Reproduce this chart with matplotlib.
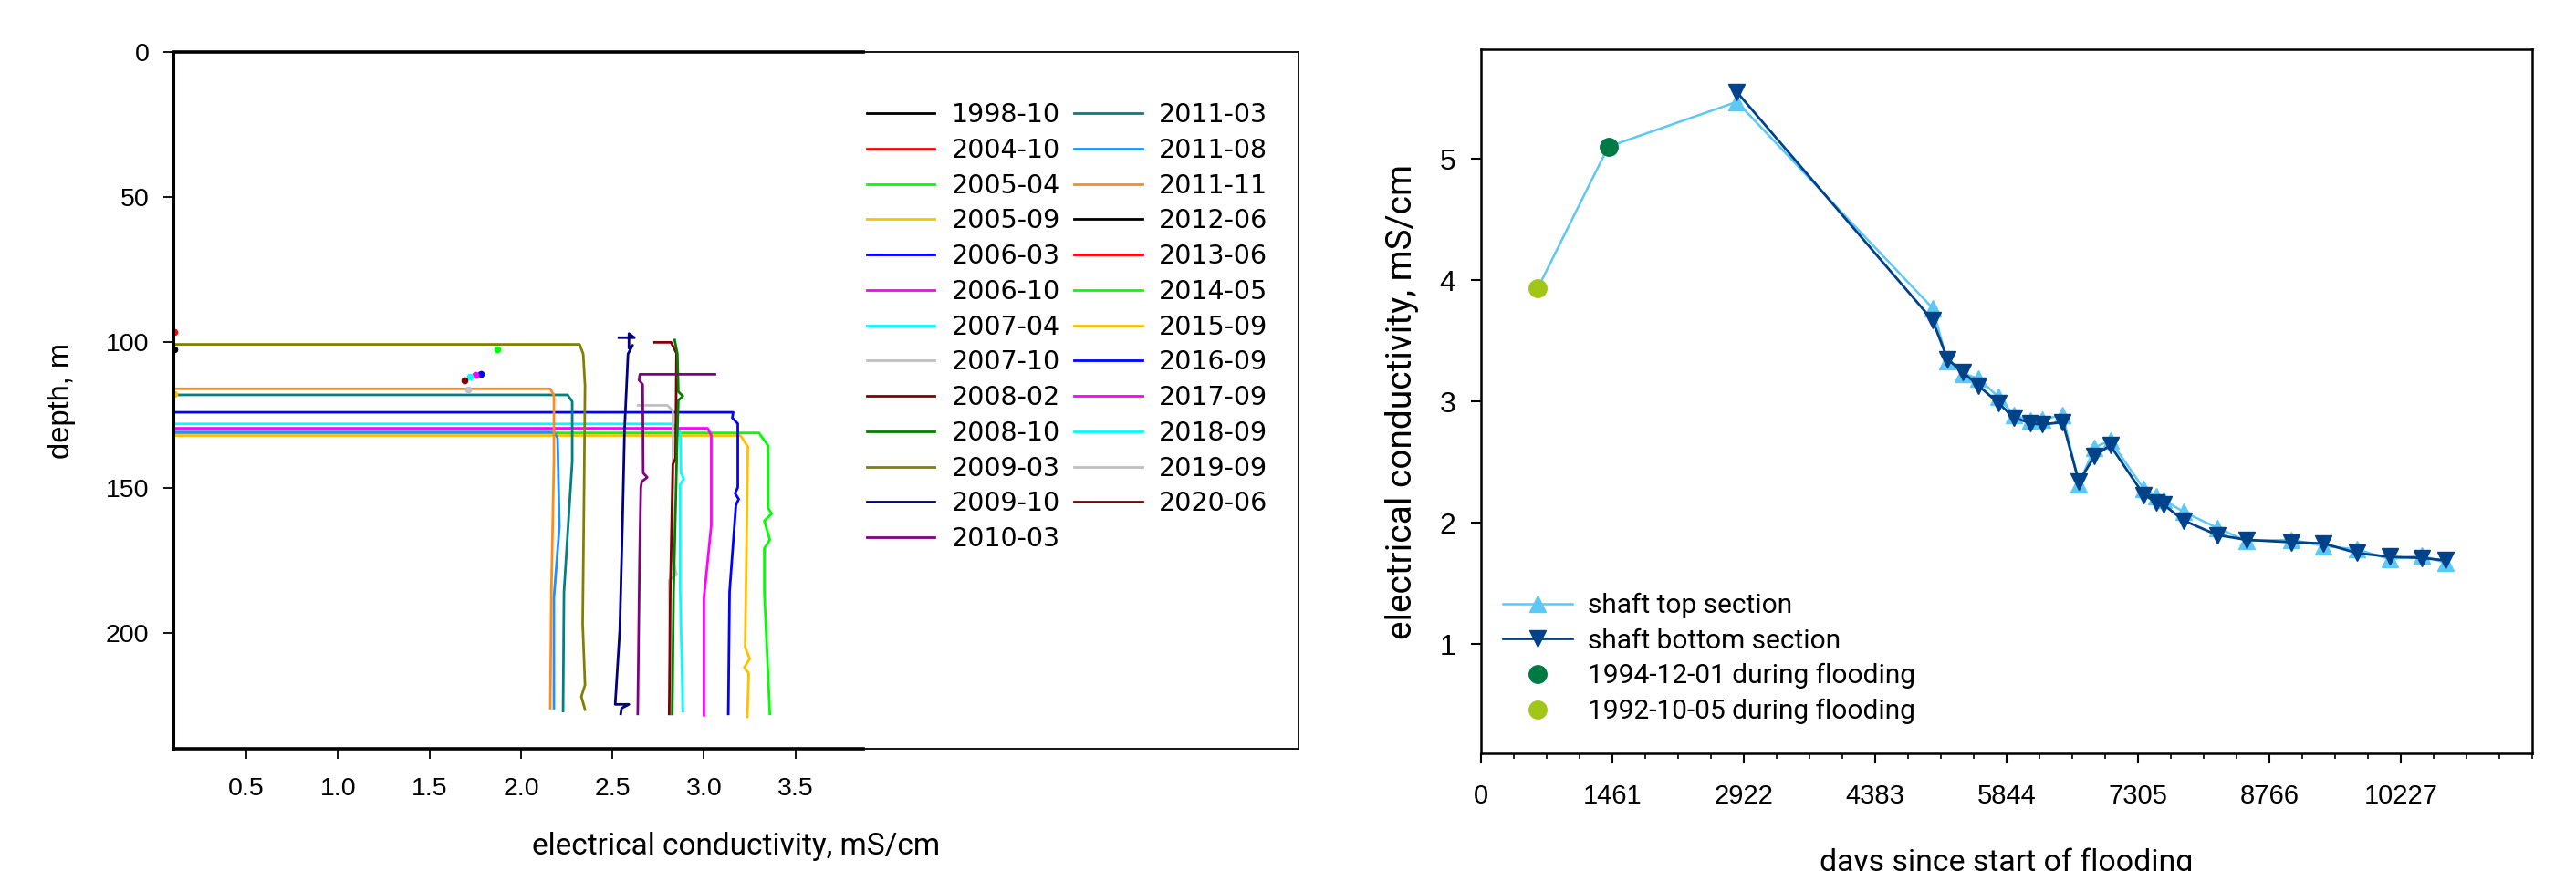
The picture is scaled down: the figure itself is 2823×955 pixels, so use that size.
import matplotlib
matplotlib.use("Agg")
import matplotlib.pyplot as plt
from matplotlib.ticker import MultipleLocator

plt.rcParams['font.family'] = ['Liberation Sans', 'DejaVu Sans']

# ---------------- left panel: depth profiles (EC in mS/cm, depth in m) ----------------
names = ["1998-10", "2004-10", "2005-04", "2005-09", "2006-03", "2006-10", "2007-04",
         "2007-10", "2008-02", "2008-10", "2009-03", "2009-10", "2010-03",
         "2011-03", "2011-08", "2011-11", "2012-06", "2013-06", "2014-05", "2015-09",
         "2016-09", "2017-09", "2018-09", "2019-09", "2020-06"]
colors = ["#000000", "#ff0000", "#00ff00", "#ffc000", "#0000ff", "#ff00ff", "#00ffff",
          "#c0c0c0", "#800000", "#008000", "#808000", "#000080", "#800080",
          "#008080", "#1e90ff", "#ff8c1a", "#000000", "#ff0000", "#00ff00", "#ffc000",
          "#0000ff", "#ff00ff", "#00ffff", "#c0c0c0", "#800000"]

ec_profiles = [
    [0.105],
    [0.105],
    [0.0, 3.30, 3.35, 3.35, 3.37, 3.33, 3.36, 3.33, 3.33, 3.36],
    [0.0, 3.20, 3.24, 3.235, 3.225, 3.25, 3.22, 3.245, 3.237],
    [0.0, 3.16, 3.155, 3.185, 3.185, 3.17, 3.19, 3.175, 3.14, 3.133],
    [0.0, 3.02, 3.04, 3.04, 3.0, 3.0],
    [0.0, 2.83, 2.87, 2.875, 2.89, 2.87, 2.87, 2.885],
    [2.64, 2.80, 2.83, 2.83, 2.85, 2.81, 2.82],
    [2.73, 2.82, 2.85, 2.845, 2.83, 2.816, 2.81],
    [2.84, 2.855, 2.86, 2.885, 2.86, 2.855, 2.834, 2.827],
    [0.0, 2.32, 2.34, 2.35, 2.345, 2.337, 2.35, 2.33, 2.35],
    [2.535, 2.62, 2.59, 2.59, 2.61, 2.585, 2.566, 2.554, 2.54, 2.515, 2.59, 2.55, 2.545],
    [3.06, 2.65, 2.645, 2.665, 2.668, 2.69, 2.66, 2.655, 2.648, 2.638],
    [0.0, 2.255, 2.28, 2.28, 2.235, 2.23],
    [0.0, 2.18, 2.20, 2.21, 2.18, 2.18],
    [0.0, 2.16, 2.18, 2.18, 2.166, 2.16],
    [],
    [],
    [1.87],
    [0.105],
    [1.78],
    [1.75],
    [1.72],
    [1.71],
    [1.69],
]
depth_profiles = [
    [102.4],
    [96.3],
    [131.2, 131.2, 135.5, 157.0, 159.0, 161.5, 168.0, 171.0, 186.0, 228.0],
    [132.1, 132.1, 136.0, 160.0, 205.0, 209.0, 212.0, 214.0, 229.0],
    [124.1, 124.1, 126.0, 128.0, 150.0, 152.0, 154.0, 156.0, 186.0, 228.0],
    [129.6, 129.6, 132.0, 163.0, 188.0, 228.5],
    [128.1, 128.1, 131.0, 145.0, 147.0, 149.0, 185.0, 227.0],
    [121.7, 121.7, 123.6, 175.0, 180.0, 182.0, 228.0],
    [100.0, 100.0, 103.7, 140.0, 142.0, 186.0, 228.0],
    [99.2, 104.0, 117.0, 118.5, 120.0, 130.0, 186.0, 228.0],
    [100.7, 100.7, 104.0, 115.0, 150.0, 197.0, 218.0, 222.0, 226.5],
    [98.4, 98.4, 97.0, 102.0, 101.0, 104.0, 130.0, 164.0, 199.0, 224.7, 224.7, 226.0, 228.0],
    [111.0, 111.0, 113.0, 114.5, 145.0, 146.5, 148.0, 150.0, 175.0, 228.0],
    [118.1, 118.1, 120.4, 141.0, 186.0, 227.0],
    [130.9, 130.9, 133.0, 163.6, 188.0, 226.0],
    [116.0, 116.0, 118.3, 141.0, 186.0, 226.0],
    [],
    [],
    [102.3],
    [117.7],
    [110.8],
    [111.3],
    [111.7],
    [116.3],
    [113.1],
]

ec_ticks = [0.5, 1.0, 1.5, 2.0, 2.5, 3.0, 3.5]
depth_ticks = [0, 50, 100, 150, 200]

# ---------------- right panel: EC vs days since flooding ----------------
days = [2846, 5021, 5187, 5360, 5533, 5749, 5922, 6112, 6238, 6468, 6648, 6823, 6996,
        7370, 7513, 7590, 7812, 8183, 8509, 9013, 9368, 9745, 10103, 10459, 10727]
ec_top = [5.47, 3.77, 3.33, 3.23, 3.19, 3.04, 2.89, 2.84, 2.85, 2.89, 2.32, 2.62, 2.68,
          2.28, 2.22, 2.19, 2.09, 1.96, 1.85, 1.86, 1.81, 1.78, 1.70, 1.73, 1.67]
ec_bottom = [5.55, 3.67, 3.35, 3.24, 3.13, 2.99, 2.87, 2.82, 2.81, 2.83, 2.34, 2.55, 2.64,
             2.23, 2.17, 2.15, 2.02, 1.90, 1.86, 1.84, 1.83, 1.75, 1.72, 1.71, 1.69]
flood_days = [630, 1416]
flood_ec = [3.93, 5.10]
flood_labels = ["1992-10-05 during flooding", "1994-12-01 during flooding"]
flood_colors = ["#a2c617", "#007a45"]
day_ticks = [0, 1461, 2922, 4383, 5844, 7305, 8766, 10227]

fig = plt.figure(figsize=(28.23, 9.55), dpi=100)
ax1 = fig.add_axes([0.0673, 0.1403, 0.4368, 0.80])
ax2 = fig.add_axes([0.5749, 0.1351, 0.4081, 0.8079])

# left panel
for name, col, ec, dep in zip(names, colors, ec_profiles, depth_profiles):
    ax1.plot(ec, dep, color=col, lw=2.0, label=name)
    if len(ec) == 1:
        ax1.plot(ec, dep, 'o', color=col, ms=4.5)

ax1.set_xlim(0.1, 6.25)
ax1.set_ylim(240, 0)
ax1.set_xticks(ec_ticks)
ax1.set_xticklabels([f"{v:.1f}" for v in ec_ticks])
ax1.set_yticks(depth_ticks)
ax1.tick_params(axis='both', direction='out', length=8, width=1.3, labelsize=20.5)
ax1.tick_params(axis='x', pad=14)
ax1.tick_params(axis='y', pad=11)
for s in ax1.spines.values():
    s.set_linewidth(1.3)
# the inner plot frame is drawn a bit heavier than the outer box
ax1.plot([0, 0.613], [1, 1], transform=ax1.transAxes, color='black', lw=2.6, clip_on=False)
ax1.plot([0, 0.613], [0, 0], transform=ax1.transAxes, color='black', lw=2.6, clip_on=False)
ax1.spines['left'].set_linewidth(2.2)

ax1.set_xlabel("electrical conductivity, mS/cm", family='Roboto', fontsize=24)
ax1.xaxis.label.set_va('baseline')
ax1.xaxis.set_label_coords(0.5, -0.152)
ax1.set_ylabel("depth, m", fontsize=23.5)
ax1.yaxis.label.set_va('center')
ax1.yaxis.set_label_coords(-0.099, 0.5)

ax1.legend(loc='upper left', bbox_to_anchor=(0.616, 0.928), ncol=2, frameon=False,
           prop={'family': 'DejaVu Sans', 'size': 20.5}, borderpad=0, borderaxespad=0,
           handlelength=2.63, handletextpad=0.63, columnspacing=0.53, labelspacing=0.378)

# right panel
ax2.plot(flood_days + days[:1], flood_ec + ec_top[:1], color='#5bc8f5', lw=1.8, zorder=2)
ax2.plot(days, ec_top, '-^', color='#5bc8f5', lw=1.8, ms=13, label="shaft top section", zorder=3)
ax2.plot(days, ec_bottom, '-v', color='#00428a', lw=2.0, ms=13, label="shaft bottom section", zorder=4)
ax2.plot(flood_days[1:], flood_ec[1:], 'o', color=flood_colors[1], ms=14, label=flood_labels[1], zorder=5)
ax2.plot(flood_days[:1], flood_ec[:1], 'o', color=flood_colors[0], ms=14, label=flood_labels[0], zorder=5)

ax2.set_xlim(0, 11688)
ax2.set_ylim(0.1, 5.9)
ax2.set_xticks(day_ticks)
ax2.xaxis.set_minor_locator(MultipleLocator(365.25))
ax2.set_yticks([1, 2, 3, 4, 5])
ax2.tick_params(axis='both', which='major', direction='out', length=8, width=1.5)
ax2.tick_params(axis='both', which='minor', direction='out', length=4.5, width=1.2)
ax2.tick_params(axis='x', which='major', labelsize=21, pad=16)
ax2.tick_params(axis='y', which='major', labelsize=23, pad=12)
for s in ax2.spines.values():
    s.set_linewidth(1.8)

ax2.set_xlabel("days since start of flooding", family='Roboto', fontsize=24.4)
ax2.xaxis.label.set_va('baseline')
ax2.xaxis.set_label_coords(0.5, -0.167)
ax2.set_ylabel("electrical conductivity, mS/cm", family='Roboto', fontsize=28)
ax2.yaxis.label.set_va('center')
ax2.yaxis.set_label_coords(-0.0747, 0.5)

ax2.legend(loc='upper left', bbox_to_anchor=(0.021, 0.228), frameon=False,
           prop={'family': 'Roboto', 'size': 21.5}, borderpad=0, borderaxespad=0,
           handlelength=2.53, handletextpad=0.57, labelspacing=0.35)

fig.savefig("out.png", dpi=100)
